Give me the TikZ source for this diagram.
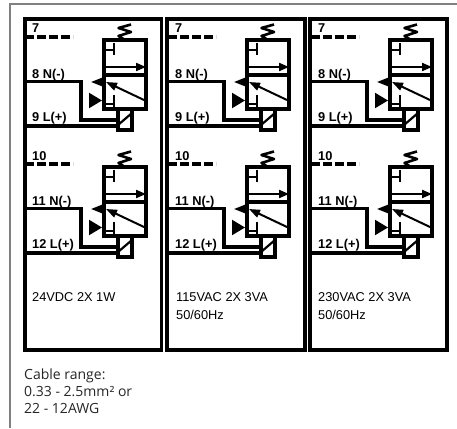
\documentclass[tikz,border=0pt]{standalone}
\usepackage{fontspec}
\setmainfont{Liberation Sans}
\newfontfamily\cablefont{Open Sans}
\usetikzlibrary{positioning,arrows.meta}

\tikzset{
  panelbox/.style={draw, line width=3.2pt, line join=miter, minimum height=331pt, inner sep=0pt, outer sep=0pt},
  valvebox/.style={draw, line width=3.2pt, minimum width=42pt, inner sep=0pt, outer sep=0pt},
  coilbox/.style={draw, line width=3.2pt, minimum width=14pt, minimum height=21pt, inner sep=0pt, outer sep=0pt},
  wire/.style={line width=3.2pt, line join=miter},
  thinwire/.style={line width=2pt},
  pinlabel/.style={anchor=base west, inner sep=0pt, font=\bfseries\fontsize{12.8}{12.8}\selectfont},
  powerlabel/.style={anchor=base west, inner sep=0pt, font=\fontsize{12.8}{12.8}\selectfont}
}

\newcommand{\valveunit}[6]{
\begin{scope}[shift={(#2,#3)}]
\node[valvebox, minimum height=35pt] (#1top) at (125,-57.5) {};
\node[valvebox, minimum height=34pt, below=0pt of #1top] (#1bot) {};
\node[coilbox, below=0pt of #1bot] (#1coil) {};
% pins and wires
\node[pinlabel] (#1p7) at (32,-33) {#4};
\node[pinlabel] (#1p8) at (32,-78) {#5};
\node[pinlabel] (#1p9) at (32,-121) {#6};
\coordinate (#1a) at (25,-37);
\coordinate (#1b) at (73,-37);
\coordinate (#1c) at (25,-81.5);
\coordinate (#1d) at (81,-81.5);
\coordinate (#1e) at (81,-120);
\coordinate (#1f) at (25,-126);
\draw[wire, dash pattern=on 9pt off 3pt] (#1a) -- (#1b);
\draw[wire] (#1c) -- (#1d) -- (#1e) -- (#1e -| #1coil.west);
\draw[wire] (#1f) -- (#1f -| #1coil.west);
\draw[line width=2.2pt] (#1coil.west |- 0,-125) -- (#1coil.east |- 0,-113);
% spring
\draw[line width=2.6pt, line join=round] (131,-24.5) -- (118.5,-28) -- (131,-32) -- (118.5,-36) -- (#1top.north);
% upper ports
\coordinate (#1g) at (#1top.west |- 0,-50);
\coordinate (#1h) at (114,-50);
\draw[thinwire] (#1g) -- (#1h) (114,-43) -- (114,-55);
\coordinate (#1i) at (#1top.west |- 0,-67);
\coordinate (#1j) at (#1top.east |- 0,-67);
\draw[thinwire, -{Triangle[length=10pt,width=8pt]}] (#1i) -- (#1j);
% lower ports
\coordinate (#1k) at (144,-100);
\coordinate (#1l) at (106,-82);
\draw[thinwire, -{Triangle[length=11pt,width=8pt]}] (#1k) -- (#1l);
\coordinate (#1m) at (#1bot.west |- 0,-82);
\coordinate (#1n) at (91,-82);
\draw[thinwire, -{Triangle[length=11pt,width=8pt]}] (#1m) -- (#1n);
\coordinate (#1o) at (89,-100.5);
\coordinate (#1q) at (102,-100.5);
\draw[thinwire, -{Triangle[length=13pt,width=15pt]}] (#1o) -- (#1q);
\draw[thinwire] (#1q) -- (#1q -| #1bot.west);
\coordinate (#1r) at (#1bot.west |- 0,-104);
\coordinate (#1s) at (114,-104);
\draw[thinwire] (#1r) -- (#1s) (114,-95) -- (114,-109);
\end{scope}
}

\begin{document}
\begin{tikzpicture}[x=1pt,y=1pt]
\useasboundingbox (0,-428) rectangle (457,0);
% outer frame
\coordinate (framea) at (10,-428);
\coordinate (frameb) at (457,-4);
\draw[gray, line width=1.5pt] (framea) |- (frameb);
% panels
\node[panelbox, minimum width=136.5pt] (panela) at (93.25,-184.5) {};
\node[panelbox, minimum width=138pt] (panelb) at (236,-184.5) {};
\node[panelbox, minimum width=137pt] (panelc) at (378.5,-184.5) {};
% solenoids
\valveunit{aa}{0}{0}{7}{8 N(-)}{9 L(+)}
\valveunit{ab}{0}{-127}{10}{11 N(-)}{12 L(+)}
\valveunit{ba}{143}{0}{7}{8 N(-)}{9 L(+)}
\valveunit{bb}{143}{-127}{10}{11 N(-)}{12 L(+)}
\valveunit{ca}{286}{0}{7}{8 N(-)}{9 L(+)}
\valveunit{cb}{286}{-127}{10}{11 N(-)}{12 L(+)}
% ratings
\node[powerlabel] (powera) at (32,-301) {24VDC 2X 1W};
\node[powerlabel] (powerb) at (176,-301) {115VAC 2X 3VA};
\node[powerlabel, below=9pt of powerb.south west, anchor=north west] (freqb) {50/60Hz};
\node[powerlabel] (powerc) at (318,-301) {230VAC 2X 3VA};
\node[powerlabel, below=9pt of powerc.south west, anchor=north west] (freqc) {50/60Hz};
% cable note
\node[anchor=north west, inner sep=0pt, text=black!85, align=left, font=\cablefont\fontsize{14}{17}\selectfont] (cable) at (24,-369) {Cable range:\\0.33 - 2.5mm² or\\22 - 12AWG};
\end{tikzpicture}
\end{document}
